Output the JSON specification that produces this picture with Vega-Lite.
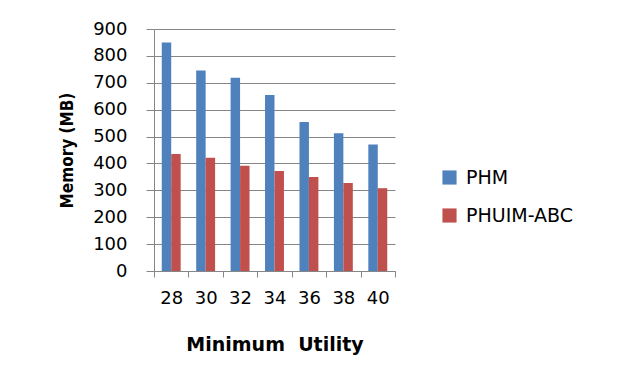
{
  "$schema": "https://vega.github.io/schema/vega-lite/v6.json",
  "width": 241,
  "height": 242,
  "autosize": {"type": "none"},
  "padding": {"left": 154, "top": 29, "right": 230, "bottom": 116},
  "background": "white",
  "data": {
    "values": [
      {"utility": "28", "algorithm": "PHM", "memory": 850},
      {"utility": "28", "algorithm": "PHUIM-ABC", "memory": 435},
      {"utility": "30", "algorithm": "PHM", "memory": 746},
      {"utility": "30", "algorithm": "PHUIM-ABC", "memory": 421},
      {"utility": "32", "algorithm": "PHM", "memory": 719},
      {"utility": "32", "algorithm": "PHUIM-ABC", "memory": 391},
      {"utility": "34", "algorithm": "PHM", "memory": 655},
      {"utility": "34", "algorithm": "PHUIM-ABC", "memory": 372},
      {"utility": "36", "algorithm": "PHM", "memory": 554},
      {"utility": "36", "algorithm": "PHUIM-ABC", "memory": 350},
      {"utility": "38", "algorithm": "PHM", "memory": 512},
      {"utility": "38", "algorithm": "PHUIM-ABC", "memory": 327},
      {"utility": "40", "algorithm": "PHM", "memory": 470},
      {"utility": "40", "algorithm": "PHUIM-ABC", "memory": 308}
    ]
  },
  "mark": {"type": "bar"},
  "encoding": {
    "x": {
      "field": "utility",
      "type": "ordinal",
      "sort": null,
      "scale": {"paddingInner": 0, "paddingOuter": 0},
      "axis": {
        "title": "Minimum\u00a0\u00a0Utility",
        "titleFont": "DejaVu Sans",
        "titleFontWeight": "bold",
        "titleFontSize": 19,
        "titleColor": "#000000",
        "titlePadding": 28,
        "labelAngle": 0,
        "labelFont": "DejaVu Sans",
        "labelFontSize": 18,
        "labelColor": "#000000",
        "labelPadding": 12,
        "tickBand": "extent",
        "tickSize": 6,
        "tickColor": "#868686",
        "domainColor": "#868686",
        "grid": false
      }
    },
    "xOffset": {
      "field": "algorithm",
      "type": "nominal",
      "scale": {"domain": ["PHM", "PHUIM-ABC"], "paddingInner": 0, "paddingOuter": 0.82}
    },
    "y": {
      "field": "memory",
      "type": "quantitative",
      "scale": {"domain": [0, 900], "nice": false},
      "axis": {
        "title": "Memory (MB)",
        "titleFont": "DejaVu Sans Condensed",
        "titleFontWeight": "bold",
        "titleFontSize": 17,
        "titleColor": "#000000",
        "titlePadding": 16,
        "values": [0, 100, 200, 300, 400, 500, 600, 700, 800, 900],
        "labelFont": "DejaVu Sans",
        "labelFontSize": 18,
        "labelColor": "#000000",
        "labelPadding": 19,
        "tickSize": 8,
        "tickColor": "#868686",
        "domainColor": "#868686",
        "gridColor": "#868686",
        "gridOpacity": 1
      }
    },
    "color": {
      "field": "algorithm",
      "type": "nominal",
      "scale": {"domain": ["PHM", "PHUIM-ABC"], "range": ["#4F81BD", "#C0504D"]},
      "legend": {
        "title": null,
        "orient": "none",
        "legendX": 286,
        "legendY": 139,
        "symbolType": "square",
        "symbolSize": 200,
        "symbolStrokeWidth": 0,
        "labelFont": "DejaVu Sans",
        "labelFontSize": 19,
        "labelColor": "#000000",
        "labelOffset": 7,
        "rowPadding": 18
      }
    }
  },
  "config": {
    "view": {"stroke": null}
  }
}
